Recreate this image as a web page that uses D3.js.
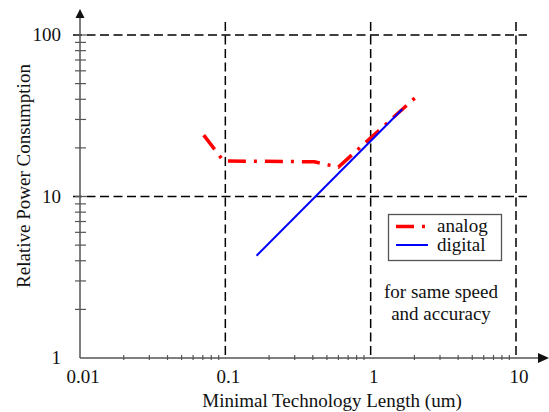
<!DOCTYPE html>
<html>
<head>
<meta charset="utf-8">
<script src="https://cdn.jsdelivr.net/npm/d3@7"></script>
<style>
  html, body { margin: 0; padding: 0; background: #fff; }
  svg { display: block; }
  text { font-family: "Liberation Serif", "Times New Roman", serif; fill: #111; }
</style>
</head>
<body>
<svg id="chart" width="549" height="412"></svg>
<script>
// Technology length (um) vs. relative power consumption
const analogX = [0.071, 0.097, 0.41, 0.60, 2.03];
const analogY = [24, 16.6, 16.4, 15.2, 41];
const digitalX = [0.164, 1.65];
const digitalY = [4.3, 34.7];

const xTickValues = [0.01, 0.1, 1, 10];
const xTickLabels = ["0.01", "0.1", "1", "10"];
const yTickValues = [1, 10, 100];
const yTickLabels = ["1", "10", "100"];
const legendLabels = ["analog", "digital"];
const noteLines = ["for same speed", "and accuracy"];
const xTitle = "Minimal Technology Length (um)";
const yTitle = "Relative Power Consumption";

const svg = d3.select("#chart");
const axisColor = "#555";
const fontSize = 19;

const x = d3.scaleLog().domain([0.01, 10]).range([80, 516]);
const y = d3.scaleLog().domain([1, 100]).range([358, 35]);

// minor tick positions: 2..9 within each decade
function minors(lo, hi) {
  const out = [];
  for (let d = lo; d < hi; d *= 10) for (let k = 2; k <= 9; k++) out.push(d * k);
  return out;
}

// dashed reference lines at the decades
const gridDash = "9,4.5";
const hGrid = [10, 100];
svg.append("g").selectAll("line").data(hGrid).join("line")
  .attr("x1", 73).attr("x2", 527)
  .attr("y1", d => y(d)).attr("y2", d => y(d))
  .attr("stroke", "#000").attr("stroke-width", 1.5).attr("stroke-dasharray", gridDash);
const vGrid = [0.1, 1, 10];
svg.append("g").selectAll("line").data(vGrid).join("line")
  .attr("x1", d => x(d)).attr("x2", d => x(d))
  .attr("y1", 22).attr("y2", y(1))
  .attr("stroke", "#000").attr("stroke-width", 1.5).attr("stroke-dasharray", gridDash);

// axes
const axes = svg.append("g").attr("stroke", axisColor).attr("stroke-width", 1.5);
axes.append("line").attr("x1", x(0.01)).attr("x2", 539).attr("y1", y(1)).attr("y2", y(1));
axes.append("line").attr("x1", x(0.01)).attr("x2", x(0.01)).attr("y1", y(1)).attr("y2", 16);
svg.append("path")
  .attr("d", `M${549},${y(1)} L${538},${y(1) - 5} L${538},${y(1) + 5} Z`).attr("fill", "#111");
svg.append("path")
  .attr("d", `M${x(0.01)},9 L${x(0.01) - 4.5},18 L${x(0.01) + 4.5},18 Z`).attr("fill", "#111");

// x minor ticks
axes.append("g").selectAll("line").data(minors(0.01, 10)).join("line")
  .attr("x1", d => x(d)).attr("x2", d => x(d))
  .attr("y1", y(1) - 3).attr("y2", y(1) + 2)
  .attr("stroke-width", 1.2);
// y ticks (decades and minors)
axes.append("g").selectAll("line").data(minors(1, 100).concat([10, 100])).join("line")
  .attr("x1", x(0.01) - 5).attr("x2", x(0.01) + 6)
  .attr("y1", d => y(d)).attr("y2", d => y(d))
  .attr("stroke-width", 1.2);

// tick labels
svg.append("g").selectAll("text").data(xTickValues).join("text")
  .attr("x", d => x(d) + 3).attr("y", 383)
  .attr("text-anchor", "middle").attr("font-size", fontSize)
  .text((d, i) => xTickLabels[i]);
svg.append("g").selectAll("text").data(yTickValues).join("text")
  .attr("x", 61).attr("y", d => y(d)).attr("dy", "0.33em")
  .attr("text-anchor", "end").attr("font-size", fontSize)
  .text((d, i) => yTickLabels[i]);

// axis titles
svg.append("text").attr("x", 332).attr("y", 407)
  .attr("text-anchor", "middle").attr("font-size", fontSize).text(xTitle);
svg.append("text").attr("transform", "translate(30,176) rotate(-90)")
  .attr("text-anchor", "middle").attr("font-size", fontSize).text(yTitle);

// series
const line = d3.line().x(d => x(d[0])).y(d => y(d[1]));
const analogDash = "18,8,3,8";
svg.append("path")
  .datum(d3.zip(analogX, analogY))
  .attr("d", line).attr("fill", "none")
  .attr("stroke", "#ff0000").attr("stroke-width", 3.5)
  .attr("stroke-dasharray", analogDash);
svg.append("path")
  .datum(d3.zip(digitalX, digitalY))
  .attr("d", line).attr("fill", "none")
  .attr("stroke", "#0000ff").attr("stroke-width", 2);

// legend
const lg = svg.append("g");
lg.append("rect").attr("x", 388.5).attr("y", 214.5).attr("width", 113).attr("height", 46)
  .attr("fill", "#fff").attr("stroke", "#555").attr("stroke-width", 1.3);
const legendRows = [
  { label: legendLabels[0], color: "#ff0000", width: 3.5, dash: analogDash, ly: 226.5, ty: 232 },
  { label: legendLabels[1], color: "#0000ff", width: 2, dash: null, ly: 245, ty: 251 }
];
legendRows.forEach(r => {
  lg.append("line").attr("x1", 396).attr("x2", r.dash ? 425 : 428)
    .attr("y1", r.ly).attr("y2", r.ly)
    .attr("stroke", r.color).attr("stroke-width", r.width)
    .attr("stroke-dasharray", r.dash);
  lg.append("text").attr("x", 437).attr("y", r.ty)
    .attr("font-size", fontSize).text(r.label);
});

// note
svg.append("g").selectAll("text").data(noteLines).join("text")
  .attr("x", 441).attr("y", (d, i) => 298 + i * 22)
  .attr("text-anchor", "middle").attr("font-size", fontSize).text(d => d);
</script>
</body>
</html>
